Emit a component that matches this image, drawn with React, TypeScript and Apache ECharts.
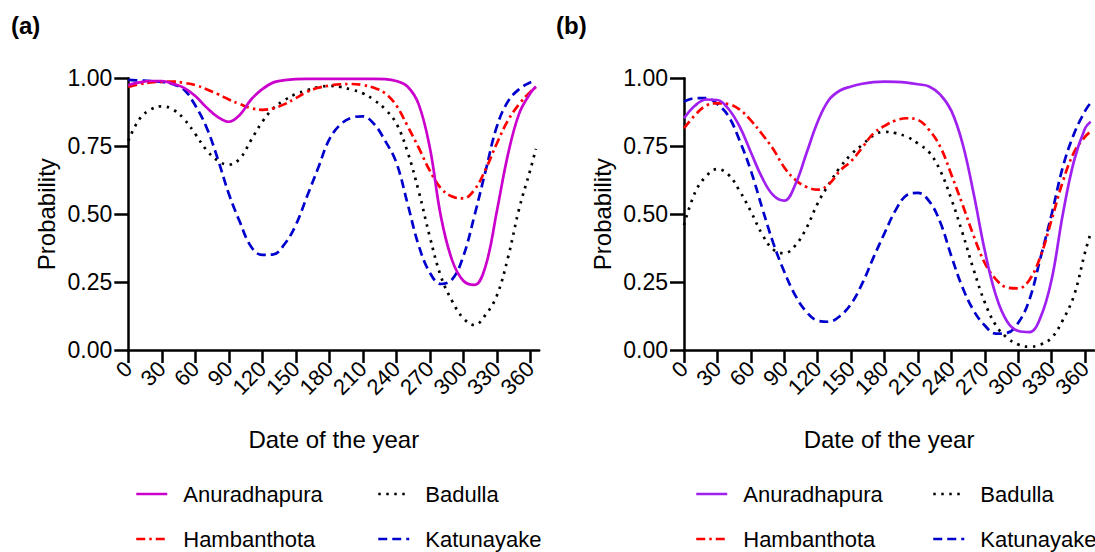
import React, { useEffect, useRef } from "react";
import * as echarts from "echarts";

const days = [0, 10, 20, 30, 40, 50, 60, 70, 80, 90, 100, 110, 120, 130, 140, 150, 160, 170, 180, 190, 200, 210, 220, 230, 240, 250, 260, 270, 280, 290, 300, 310, 320, 330, 340, 350, 360, 365];
const tickDays = [0, 30, 60, 90, 120, 150, 180, 210, 240, 270, 300, 330, 360];
const yTicks = [0, 0.25, 0.5, 0.75, 1];

// Panel (a)
const anuA = [0.975, 0.985, 0.99, 0.99, 0.98, 0.965, 0.935, 0.893, 0.858, 0.84, 0.866, 0.922, 0.96, 0.985, 0.993, 0.997, 0.998, 0.998, 0.998, 0.998, 0.998, 0.998, 0.998, 0.997, 0.99, 0.97, 0.905, 0.745, 0.49, 0.33, 0.255, 0.24, 0.31, 0.51, 0.72, 0.87, 0.945, 0.97];
const hambA = [0.968, 0.978, 0.985, 0.987, 0.988, 0.983, 0.975, 0.96, 0.942, 0.922, 0.905, 0.89, 0.884, 0.89, 0.905, 0.927, 0.95, 0.965, 0.973, 0.978, 0.979, 0.975, 0.965, 0.945, 0.9, 0.825, 0.745, 0.66, 0.595, 0.565, 0.558, 0.59, 0.665, 0.76, 0.845, 0.905, 0.95, 0.965];
const badA = [0.77, 0.85, 0.885, 0.897, 0.885, 0.85, 0.795, 0.736, 0.697, 0.682, 0.705, 0.773, 0.84, 0.89, 0.92, 0.942, 0.956, 0.967, 0.972, 0.968, 0.958, 0.945, 0.92, 0.886, 0.834, 0.73, 0.585, 0.417, 0.27, 0.18, 0.117, 0.092, 0.13, 0.2, 0.34, 0.52, 0.663, 0.74];
const katA = [0.994, 0.992, 0.99, 0.987, 0.978, 0.958, 0.9, 0.82, 0.705, 0.575, 0.47, 0.38, 0.35, 0.352, 0.39, 0.46, 0.565, 0.67, 0.775, 0.83, 0.855, 0.86, 0.832, 0.77, 0.69, 0.54, 0.385, 0.285, 0.243, 0.26, 0.345, 0.495, 0.66, 0.822, 0.915, 0.96, 0.985, 0.99];

// Panel (b)
const anuB = [0.853, 0.9, 0.922, 0.92, 0.887, 0.822, 0.728, 0.635, 0.57, 0.55, 0.61, 0.725, 0.84, 0.92, 0.955, 0.97, 0.98, 0.986, 0.988, 0.987, 0.984, 0.978, 0.97, 0.94, 0.88, 0.76, 0.575, 0.365, 0.2, 0.105, 0.07, 0.066, 0.12, 0.26, 0.5, 0.695, 0.816, 0.84];
const hambB = [0.816, 0.865, 0.9, 0.908, 0.905, 0.885, 0.845, 0.795, 0.74, 0.672, 0.626, 0.6, 0.59, 0.61, 0.66, 0.695, 0.745, 0.797, 0.825, 0.845, 0.853, 0.847, 0.81, 0.748, 0.645, 0.535, 0.42, 0.32, 0.26, 0.23, 0.227, 0.258, 0.345, 0.48, 0.62, 0.727, 0.785, 0.804];
const badB = [0.46, 0.58, 0.64, 0.666, 0.645, 0.585, 0.51, 0.427, 0.37, 0.356, 0.385, 0.45, 0.54, 0.61, 0.672, 0.72, 0.755, 0.79, 0.803, 0.798, 0.785, 0.76, 0.728, 0.66, 0.555, 0.43, 0.295, 0.175, 0.09, 0.045, 0.02, 0.012, 0.02, 0.045, 0.11, 0.2, 0.36, 0.43];
const katB = [0.914, 0.927, 0.927, 0.905, 0.86, 0.77, 0.66, 0.525, 0.395, 0.288, 0.2, 0.14, 0.108, 0.104, 0.125, 0.17, 0.245, 0.34, 0.43, 0.515, 0.57, 0.578, 0.548, 0.47, 0.345, 0.23, 0.145, 0.09, 0.06, 0.063, 0.1, 0.185, 0.34, 0.5, 0.673, 0.795, 0.88, 0.91];

const names = ["Anuradhapura", "Hambanthota", "Badulla", "Katunayake"];
const panelTitles = ["(a)", "(b)"];
const xTitle = "Date of the year";
const yTitle = "Probability";

const FONT = "'Liberation Sans', Arial, Helvetica, sans-serif";
const ANU_A = "#CC00CC";
const ANU_B = "#A020F0";
const RED = "#FF0000";
const BLACK = "#000000";
const BLUE = "#0000CD";

const pairs = (vals: number[]) => days.map((d, i) => [d, vals[i]]);

const xPx = [128.3, 684];
const xScale = [1.1167, 1.1222];
const X_MAX = 368;

function makeX(gi: number) {
  return {
    type: "value",
    gridIndex: gi,
    min: 0,
    max: X_MAX,
    axisLine: { show: true, onZero: false, lineStyle: { color: "#000", width: 2.5 } },
    axisTick: { show: true, length: 13, customValues: tickDays, lineStyle: { color: "#000", width: 2.5 } },
    axisLabel: {
      customValues: tickDays,
      rotate: 45,
      fontSize: 22,
      color: "#000",
      margin: 15,
      fontFamily: FONT,
    },
    splitLine: { show: false },
    name: xTitle,
    nameLocation: "middle",
    nameGap: 77,
    nameMoveOverlap: false,
    nameTextStyle: { fontSize: 24, color: "#000", fontFamily: FONT },
  };
}

function makeY(gi: number) {
  return {
    type: "value",
    gridIndex: gi,
    min: 0,
    max: 1,
    interval: 0.25,
    axisLine: { show: true, onZero: false, lineStyle: { color: "#000", width: 2.5 } },
    axisTick: { show: true, length: 14, customValues: yTicks, lineStyle: { color: "#000", width: 2.5 } },
    axisLabel: {
      fontSize: 23,
      color: "#000",
      margin: 16,
      fontFamily: FONT,
      formatter: (v: number) => v.toFixed(2),
    },
    splitLine: { show: false },
    name: yTitle,
    nameLocation: "middle",
    nameGap: 70,
    nameMoveOverlap: false,
    nameTextStyle: { fontSize: 24, color: "#000", fontFamily: FONT },
  };
}

function makeSeries(gi: number, anuColor: string, data: number[][]) {
  const styles: any[] = [
    { color: anuColor, type: "solid" },
    { color: RED, type: [9, 4, 2.5, 4] },
    { color: BLACK, type: [2.5, 5.5] },
    { color: BLUE, type: [9, 5] },
  ];
  return names.map((n, i) => ({
    type: "line",
    name: n,
    xAxisIndex: gi,
    yAxisIndex: gi,
    data: pairs(data[i]),
    smooth: 0.4,
    symbol: "none",
    showSymbol: false,
    itemStyle: { color: styles[i].color },
    lineStyle: { color: styles[i].color, width: 2.7, type: styles[i].type },
    z: 10 - i,
  }));
}

function makeLegend(left: number, items: any[]) {
  return {
    orient: "vertical",
    left,
    top: 483,
    itemWidth: 31,
    itemHeight: 14,
    itemGap: 23,
    selectedMode: false,
    padding: 0,
    itemStyle: { opacity: 0 },
    lineStyle: { width: 2.5 },
    textStyle: { fontSize: 22, color: "#000", fontFamily: FONT, padding: [0, 0, 0, 11] },
    data: items,
  };
}

export default function App() {
  const ref = useRef<HTMLDivElement>(null);
  useEffect(() => {
    if (!ref.current) return;
    const chart = echarts.init(ref.current, null, { renderer: "svg" });
    const option: any = {
      animation: false,
      backgroundColor: "#fff",
      textStyle: { fontFamily: FONT },
      title: panelTitles.map((t, i) => ({
        text: t,
        left: i === 0 ? 11 : 556,
        top: 13,
        padding: 0,
        textStyle: { fontSize: 24, fontWeight: "bold", color: "#000", fontFamily: FONT },
      })),
      grid: [0, 1].map((gi) => ({
        left: xPx[gi],
        top: 78.3,
        width: X_MAX * xScale[gi],
        height: 271.7,
        containLabel: false,
      })),
      xAxis: [makeX(0), makeX(1)],
      yAxis: [makeY(0), makeY(1)],
      legend: [
        makeLegend(135, [{ name: "Anuradhapura", lineStyle: { color: ANU_A } }, { name: "Hambanthota" }]),
        makeLegend(377, [{ name: "Badulla" }, { name: "Katunayake" }]),
        makeLegend(695, [{ name: "Anuradhapura", lineStyle: { color: ANU_B } }, { name: "Hambanthota" }]),
        makeLegend(932, [{ name: "Badulla" }, { name: "Katunayake" }]),
      ],
      series: [
        ...makeSeries(0, ANU_A, [anuA, hambA, badA, katA]),
        ...makeSeries(1, ANU_B, [anuB, hambB, badB, katB]),
      ],
    };
    chart.setOption(option);
    return () => chart.dispose();
  }, []);
  return (
    <div
      ref={ref}
      style={{ position: "absolute", left: 0, top: 0, width: 1095, height: 552 }}
    />
  );
}
